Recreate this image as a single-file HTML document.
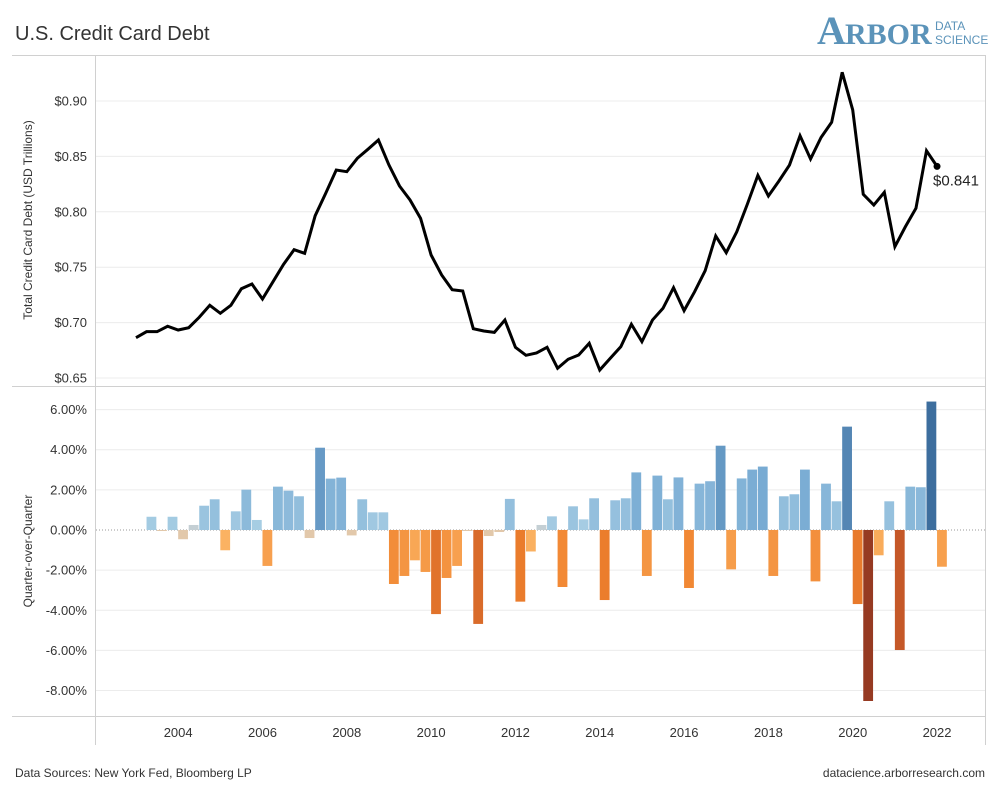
<!DOCTYPE html>
<html><head><meta charset="utf-8"><style>
body{margin:0;background:#fff;font-family:"Liberation Sans",sans-serif;}
svg{display:block}
</style></head><body>
<svg id="chart" width="1000" height="789" viewBox="0 0 1000 789">
<text x="15" y="40" font-size="20" fill="#333">U.S. Credit Card Debt</text>
<g>
<text x="817" y="44" font-size="40" font-weight="bold" fill="#5b93b9" font-family="Liberation Serif, serif">A</text>
<text x="845" y="44" font-size="30" font-weight="bold" fill="#5b93b9" font-family="Liberation Serif, serif">RBOR</text>
<text x="935" y="30" font-size="12" fill="#5b93b9">DATA</text>
<text x="935" y="44" font-size="12" fill="#5b93b9">SCIENCE</text>
</g>
<g id="frame" stroke="#d0d0d0" stroke-width="1" fill="none">
<line x1="12" y1="55.5" x2="985" y2="55.5"/>
<line x1="12" y1="386.5" x2="985" y2="386.5"/>
<line x1="12" y1="716.5" x2="985" y2="716.5"/>
<line x1="95.5" y1="55" x2="95.5" y2="745"/>
<line x1="985.5" y1="55" x2="985.5" y2="745"/>
</g>
<g id="grid"></g>
<g id="bars"></g>
<g id="line"></g>
<g id="labels"></g>
<text x="32" y="220" font-size="12" fill="#333" transform="rotate(-90 32 220)" text-anchor="middle">Total Credit Card Debt (USD Trillions)</text>
<text x="32" y="551" font-size="12" fill="#333" transform="rotate(-90 32 551)" text-anchor="middle">Quarter-over-Quarter</text>
<text x="15" y="777" font-size="12" fill="#333">Data Sources: New York Fed, Bloomberg LP</text>
<text x="985" y="777" font-size="12" fill="#333" text-anchor="end">datacience.arborresearch.com</text>
</svg>
<script>
const debtValues=[0.6864,0.6918,0.6918,0.6967,0.6933,0.6954,0.7048,0.7156,0.7084,0.7156,0.7306,0.7348,0.7213,0.7369,0.7526,0.7658,0.7625,0.7965,0.8167,0.8377,0.8362,0.8483,0.8564,0.8648,0.8422,0.8233,0.8107,0.7941,0.7610,0.7430,0.7297,0.7285,0.6945,0.6924,0.6912,0.7023,0.6777,0.6705,0.6726,0.6777,0.6588,0.6669,0.6708,0.6813,0.6572,0.6678,0.6783,0.6985,0.6828,0.7023,0.7129,0.7315,0.7108,0.7279,0.7469,0.7782,0.7631,0.7820,0.8068,0.8329,0.8143,0.8278,0.8422,0.8687,0.8477,0.8672,0.8808,0.9259,0.8919,0.8158,0.8061,0.8176,0.7685,0.7866,0.8032,0.8551,0.841];
const qoqValues=[null,0.66,-0.05,0.66,-0.46,0.25,1.21,1.53,-1.01,0.93,2.01,0.50,-1.79,2.16,1.96,1.68,-0.40,4.10,2.56,2.61,-0.27,1.53,0.88,0.88,-2.69,-2.29,-1.51,-2.09,-4.19,-2.39,-1.79,-0.05,-4.68,-0.30,-0.10,1.55,-3.57,-1.07,0.25,0.68,-2.84,1.18,0.53,1.58,-3.49,1.48,1.58,2.87,-2.29,2.71,1.53,2.62,-2.89,2.31,2.43,4.20,-1.96,2.57,3.01,3.16,-2.29,1.68,1.78,3.01,-2.56,2.31,1.43,5.15,-3.69,-8.52,-1.26,1.43,-5.98,2.16,2.13,6.40,-1.83];
const debtTicks=[0.65,0.70,0.75,0.80,0.85,0.90];
const qoqTicks=[6,4,2,0,-2,-4,-6,-8];
const yearTicks=[2004,2006,2008,2010,2012,2014,2016,2018,2020,2022];
const startYear=2003;
const lastLabel="$0.841";

const NS="http://www.w3.org/2000/svg";
function mk(tag,attrs,parent){const e=document.createElementNS(NS,tag);for(const k in attrs)e.setAttribute(k,attrs[k]);parent.appendChild(e);return e;}
const xQ=i=>136+i*10.54;
const xYear=y=>136+(y-startYear)*4*10.54;
const yDebt=v=>101+(0.90-v)/0.05*55.4;
const yQ=v=>530-v*20.07;
const grid=document.getElementById('grid'),bars=document.getElementById('bars'),lineG=document.getElementById('line'),labels=document.getElementById('labels');

debtTicks.concat([0.95]).forEach(t=>{
 const y=yDebt(t);if(y<57)return;
 const l=mk('line',{x1:96,x2:985,y1:y,y2:y,stroke:'#ececec'},grid);
 
 
});
debtTicks.forEach(t=>{
 const tx=mk('text',{x:87,y:yDebt(t)+4.5,'font-size':13,fill:'#333','text-anchor':'end'},labels);
 tx.textContent='$'+t.toFixed(2);
 
 
});
qoqTicks.forEach(t=>{
 const y=yQ(t);
 if(t!==0){const l=mk('line',{x1:96,x2:985,y1:y,y2:y,stroke:'#ececec'},grid);
 
 }
 const tx=mk('text',{x:87,y:y+4.5,'font-size':13,fill:'#333','text-anchor':'end'},labels);
 tx.textContent=t.toFixed(2)+'%';
 
 
});
const zl=mk('line',{x1:96,x2:985,y1:yQ(0),y2:yQ(0),stroke:'#999','stroke-dasharray':'1 2'},grid);


yearTicks.forEach(y=>{
 const tx=mk('text',{x:xYear(y),y:737,'font-size':13,fill:'#333','text-anchor':'middle'},labels);
 tx.textContent=y;
 
 
});
function lerp(a,b,t){return a.map((v,i)=>Math.round(v+(b[i]-v)*t));}
function ramp(stops,t){t=Math.max(0,Math.min(1,t));const n=stops.length-1;const k=Math.min(n-1,Math.floor(t*n));return lerp(stops[k],stops[k+1],t*n-k);}
function color(v){
 if(v>=0){if(v<0.35)return 'rgb(196,207,212)';const c=ramp([[168,206,228],[116,168,210],[61,110,158]],(v-0.4)/6);return 'rgb('+c+')';}
 const a=-v;if(a<0.5)return 'rgb(226,200,170)';const c=ramp([[253,189,110],[240,130,45],[200,90,40],[150,58,34]],(a-0.5)/8);return 'rgb('+c+')';
}
qoqValues.forEach((v,i)=>{
 if(v===null)return;
 const y0=yQ(0),y1=yQ(v);
 const r=mk('rect',{x:xQ(i),y:Math.min(y0,y1),width:9.8,height:Math.max(1,Math.abs(y1-y0)),fill:color(v)},bars);
 
 
});
const pts=debtValues.map((v,i)=>xQ(i)+','+yDebt(v)).join(' ');
const pl=mk('polyline',{points:pts,fill:'none',stroke:'#000','stroke-width':3,'stroke-linejoin':'miter'},lineG);


const li=debtValues.length-1;
const dot=mk('circle',{cx:xQ(li),cy:yDebt(debtValues[li]),r:3.5,fill:'#000'},lineG);


const lt=mk('text',{x:xQ(li)-4,y:yDebt(debtValues[li])+19,'font-size':15,fill:'#222'},labels);
lt.textContent=lastLabel;


</script>
</body></html>
